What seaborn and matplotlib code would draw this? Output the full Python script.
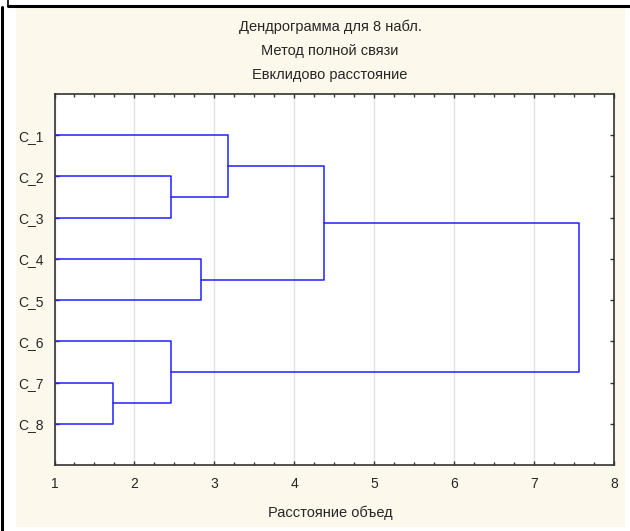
import pandas as pd
import matplotlib.pyplot as plt
import matplotlib.patches as mpatches
import matplotlib.lines as mlines
from matplotlib.ticker import MultipleLocator
import seaborn as sns

# leaves of the tree, top to bottom
labels = ['C_1', 'C_2', 'C_3', 'C_4', 'C_5', 'C_6', 'C_7', 'C_8']

# linkage: cluster ids 0..7 are leaves, each merge makes the next id (8, 9, ...)
merge_a = [6, 1, 5, 3, 0, 12, 13]
merge_b = [7, 2, 8, 4, 9, 11, 10]
merge_dist = [1.735, 2.453, 2.457, 2.832, 3.165, 4.366, 7.559]

x_ticks = [1, 2, 3, 4, 5, 6, 7, 8]

title_lines = ['Дендрограмма для 8 набл.', 'Метод полной связи', 'Евклидово расстояние']
x_title = 'Расстояние объед'

# build U-shaped links
node_x = {i: 1.0 for i in range(len(labels))}
node_y = {i: float(i + 1) for i in range(len(labels))}
rows = []
for k, (a, b, d) in enumerate(zip(merge_a, merge_b, merge_dist)):
    pts = [(node_x[a], node_y[a]), (d, node_y[a]), (d, node_y[b]), (node_x[b], node_y[b])]
    for j, (px, py) in enumerate(pts):
        rows.append({'seg': k, 'order': j, 'x': px, 'y': py})
    new_id = len(labels) + k
    node_x[new_id] = d
    node_y[new_id] = (node_y[a] + node_y[b]) / 2
links = pd.DataFrame(rows)

sns.set_style('white')
plt.rcParams['font.family'] = ['Liberation Sans', 'DejaVu Sans']

W, H = 630, 531
fig = plt.figure(figsize=(W / 100, H / 100), dpi=100)
fig.patch.set_facecolor('white')

# cream panel and the cropped window frame
fig.patches.append(mpatches.Rectangle((16 / W, 1 - 527 / H), (625 - 16) / W, (527 - 8) / H,
                                      transform=fig.transFigure, facecolor='#fdf8ec',
                                      edgecolor='none', zorder=-5))
fig.lines.append(mlines.Line2D([1.5 / W, 1.5 / W], [0, 1 - 7 / H], transform=fig.transFigure,
                               color='black', lw=2.2))
fig.lines.append(mlines.Line2D([8 / W, 1], [1 - 6 / H, 1 - 6 / H], transform=fig.transFigure,
                               color='black', lw=2.2))
fig.lines.append(mlines.Line2D([8 / W, 8 / W], [1 - 6 / H, 1], transform=fig.transFigure,
                               color='black', lw=1.2))

ax = fig.add_axes([54.5 / W, 1 - 465 / H, (614.3 - 54.5) / W, (465 - 94) / H])
ax.set_zorder(5)
ax.set_facecolor('white')

sns.lineplot(data=links, x='x', y='y', units='seg', estimator=None, sort=False,
             color='#1f1fff', lw=1.1, ax=ax, legend=False)

ax.set_xlim(1, 8)
ax.set_ylim(len(labels) + 1, 0)
ax.set_xticks(x_ticks)
ax.xaxis.set_minor_locator(MultipleLocator(0.25))
ax.set_yticks(range(1, len(labels) + 1))
ax.set_yticklabels(labels)
ax.set_xlabel('')
ax.set_ylabel('')
ax.grid(True, axis='x', color='#e2e2e2', lw=1)
ax.grid(False, axis='y')
ax.set_axisbelow(True)

for s in ax.spines.values():
    s.set_color('#333333')
    s.set_linewidth(1.2)
    s.set_visible(True)

ax.tick_params(axis='x', which='both', direction='in', top=True, bottom=True,
               color='#333333', labelsize=10, pad=9)
ax.tick_params(axis='x', which='major', length=3, width=1)
ax.tick_params(axis='x', which='minor', length=2, width=1)
ax.tick_params(axis='y', which='major', direction='in', left=True, right=True,
               length=3, width=1, color='#333333', labelsize=10, pad=8)

for i, t in enumerate(title_lines):
    fig.text(330 / W, 1 - (27 + 24 * i) / H, t, ha='center', va='center', fontsize=10.5)
fig.text(330 / W, 1 - 513 / H, x_title, ha='center', va='center', fontsize=10.5)

fig.savefig('out.png', dpi=100)
